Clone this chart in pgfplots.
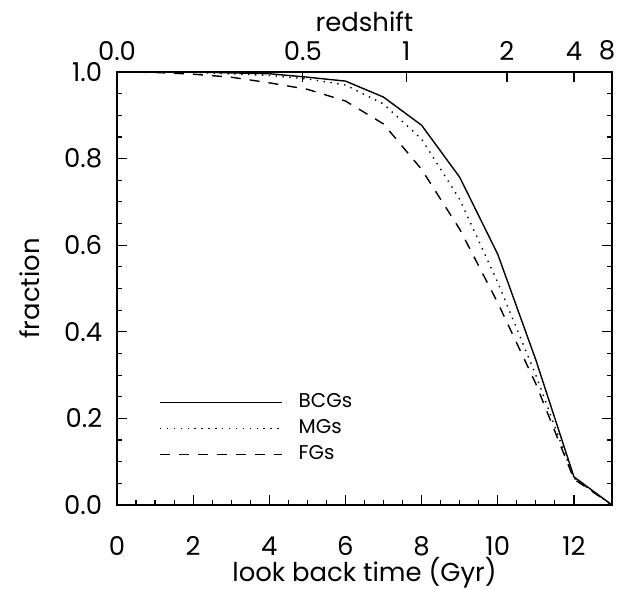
\documentclass[border=0pt]{standalone}
\usepackage{pgfplots}
\pgfplotsset{compat=1.18}
\usepackage{fontspec}
\setmainfont{Poppins}

\pgfplotstableread{
t   bcg    mg     fg
0   1.000  1.000  1.000
1   1.000  1.000  0.999
2   1.000  0.999  0.995
3   0.998  0.996  0.988
4   0.996  0.992  0.975
5   0.988  0.984  0.960
6   0.979  0.970  0.933
7   0.942  0.926  0.880
8   0.877  0.845  0.775
9   0.757  0.706  0.637
10  0.579  0.514  0.467
11  0.335  0.300  0.280
12  0.065  0.062  0.060
13  0.000  0.000  0.000
}\datatable

\begin{document}
\fontsize{26}{31}\selectfont
\begin{tikzpicture}
\begin{axis}[
  at={(0,0)}, anchor=south west,
  scale only axis, width=495bp, height=433bp,
  xmin=0, xmax=13, ymin=0, ymax=1,
  xtick={0,2,...,12}, ytick={0,0.2,0.4,0.6,0.8,1.0},
  minor x tick num=3, minor y tick num=3,
  xtick pos=bottom, ytick pos=both,
  tick align=inside,
  major tick length=10bp, minor tick length=5bp,
  axis line style={line width=1.2bp},
  every tick/.style={black, line width=1.2bp},
  /pgf/number format/assume math mode=true,
  yticklabel style={/pgf/number format/fixed, /pgf/number format/fixed zerofill, /pgf/number format/precision=1, xshift=-6bp},
  xticklabel style={yshift=-23bp},
  xlabel={look back time (Gyr)}, ylabel={fraction},
  xlabel style={at={(axis description cs:0.5,-0.157)}, anchor=center},
  ylabel style={at={(axis description cs:-0.1758,0.5)}, anchor=center},
  legend cell align=left,
  legend image code/.code={\draw[#1, line width=1.4bp] (0bp,0bp) -- (122bp,0bp);},
  legend style={draw=none, fill=none, at={(0.085,0.262)}, anchor=north west, inner sep=0pt,
    row sep=4bp, column sep=14bp,
    nodes={inner sep=2bp, font=\fontsize{20}{24}\selectfont}},
]
\addplot[black, line width=1.4bp] table[x=t, y=bcg] {\datatable};
\addlegendentry{BCGs}
\addplot[black, line width=1.4bp, dash pattern=on 1.4bp off 5.5bp] table[x=t, y=mg] {\datatable};
\addlegendentry{MGs}
\addplot[black, line width=1.4bp, dash pattern=on 10bp off 9bp] table[x=t, y=fg] {\datatable};
\addlegendentry{FGs}
\end{axis}
\begin{axis}[
  at={(0,0)}, anchor=south west,
  scale only axis, width=495bp, height=433bp,
  xmin=0, xmax=13, ymin=0, ymax=1,
  axis x line*=top, axis y line=none,
  xtick={0,4.88,7.6,10.24,12.0,13}, xticklabels={0.0,0.5,1,2,4,\hspace*{-10bp}8},
  tick align=inside, major tick length=10bp,
  axis line style={line width=1.2bp},
  every tick/.style={black, line width=1.2bp},
  xticklabel style={yshift=3bp},
  xlabel={redshift},
  xlabel style={at={(axis description cs:0.5,1.1155)}, anchor=center},
]
\end{axis}
\pgfresetboundingbox
\path (-117bp,-85bp) rectangle (501bp,505bp);
\end{tikzpicture}
\end{document}
